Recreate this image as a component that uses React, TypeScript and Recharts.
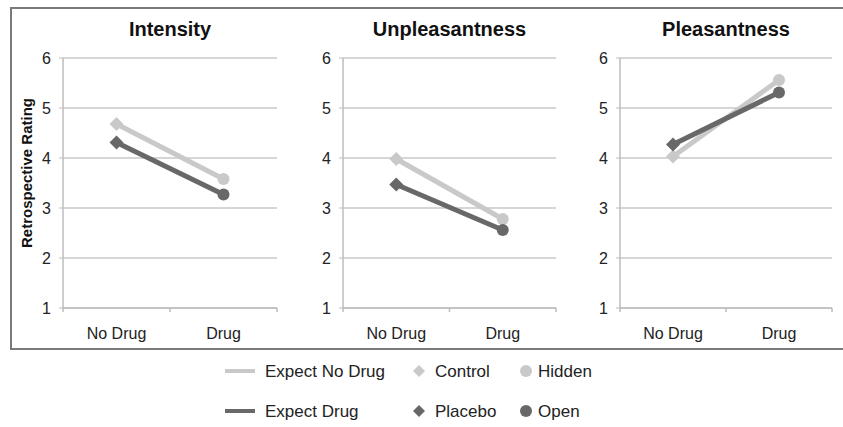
import React from 'react';
import { LineChart, Line, XAxis, YAxis, CartesianGrid } from 'recharts';

const categories = ['No Drug', 'Drug'];
const yTicks = [1, 2, 3, 4, 5, 6];
const xTicks = [0, 0.5, 1, 1.5, 2]; // whole numbers = between-category tick marks, halves = category labels

// Expect No Drug = Control (No Drug) / Hidden (Drug); Expect Drug = Placebo / Open
const intensityExpectNoDrug = [4.68, 3.58];
const intensityExpectDrug = [4.31, 3.27];
const unpleasantExpectNoDrug = [3.98, 2.78];
const unpleasantExpectDrug = [3.47, 2.56];
const pleasantExpectNoDrug = [4.03, 5.56];
const pleasantExpectDrug = [4.27, 5.31];

const LIGHT = '#c9c9c9';
const DARK = '#686868';
const FONT = '"Liberation Sans", Arial, Helvetica, sans-serif';

const build = (a: number[], b: number[]) =>
    categories.map((cat, i) => ({ cat, pos: i + 0.5, expectNoDrug: a[i], expectDrug: b[i] }));

const panels = [
    { title: 'Intensity', data: build(intensityExpectNoDrug, intensityExpectDrug), left: 11, width: 280, mr: 14 },
    { title: 'Unpleasantness', data: build(unpleasantExpectNoDrug, unpleasantExpectDrug), left: 291, width: 280, mr: 15 },
    { title: 'Pleasantness', data: build(pleasantExpectNoDrug, pleasantExpectDrug), left: 568, width: 275, mr: 11 },
];

const renderDot = (color: string) => (props: any) => {
    const { cx, cy, index } = props;
    if (cx == null || cy == null) return <g key={`d-${index}`} />;
    if (index === 0) {
        const s = 7;
        return (
            <path key={`d-${index}`} d={`M${cx},${cy - s} L${cx + s},${cy} L${cx},${cy + s} L${cx - s},${cy} Z`} fill={color} />
        );
    }
    return <circle key={`d-${index}`} cx={cx} cy={cy} r={6} fill={color} />;
};

const XTick = (props: any) => {
    const { x, y, payload } = props;
    const v = payload.value;
    if (Number.isInteger(v)) {
        return <line x1={x} x2={x} y1={y} y2={y + 4} stroke="#bdbdbd" strokeWidth={1.5} />;
    }
    return (
        <text x={x} y={y + 31} textAnchor="middle" fontSize={16} fill="#222" fontFamily={FONT}>
            {categories[Math.floor(v)]}
        </text>
    );
};

const yLabel = (props: any) => {
    const { viewBox } = props;
    const x = viewBox.x - 6;
    const y = viewBox.y + viewBox.height / 2 - 10;
    return (
        <text x={x} y={y} transform={`rotate(-90 ${x} ${y})`} textAnchor="middle" fontWeight="bold" fontSize={15} fill="#111" fontFamily={FONT}>
            Retrospective Rating
        </text>
    );
};

const Panel = ({ title, data, left, width, mr, showLabel }: any) => (
    <div style={{ position: 'absolute', left, top: 0 }}>
        <div style={{ position: 'absolute', left: 52, width: width - 52 - mr, top: 18, textAlign: 'center', fontWeight: 'bold', fontSize: 20, color: '#111' }}>
            {title}
        </div>
        <LineChart width={width} height={348} data={data} margin={{ top: 58, right: mr, bottom: 10, left: 27 }}>
            <CartesianGrid vertical={false} stroke="#c8c8c8" strokeWidth={1.5} />
            <XAxis dataKey="pos" type="number" domain={[0, 2]} ticks={xTicks} interval={0} height={30}
                axisLine={{ stroke: '#bdbdbd', strokeWidth: 1.5 }} tickLine={false} tickSize={0} tickMargin={0} tick={XTick} />
            <YAxis domain={[1, 6]} ticks={yTicks} width={25} tick={{ fill: '#222', fontSize: 16, fontFamily: FONT }}
                axisLine={{ stroke: '#bdbdbd', strokeWidth: 1.5 }} tickLine={{ stroke: '#bdbdbd' }} tickSize={4} tickMargin={8}
                label={showLabel ? yLabel : undefined} />
            <Line dataKey="expectNoDrug" stroke={LIGHT} strokeWidth={5} dot={renderDot(LIGHT)} activeDot={false} isAnimationActive={false} />
            <Line dataKey="expectDrug" stroke={DARK} strokeWidth={5} dot={renderDot(DARK)} activeDot={false} isAnimationActive={false} />
        </LineChart>
    </div>
);

const Legend = () => (
    <svg width={843} height={79} style={{ position: 'absolute', left: 0, top: 348 }}>
        <g fontFamily={FONT} fontSize={17} fill="#222">
            <line x1={225} x2={255} y1={23} y2={23} stroke={LIGHT} strokeWidth={4} />
            <text x={265} y={29}>Expect No Drug</text>
            <path d="M419,17 L425,23 L419,29 L413,23 Z" fill={LIGHT} />
            <text x={435} y={29}>Control</text>
            <circle cx={526} cy={23} r={6} fill={LIGHT} />
            <text x={538} y={29}>Hidden</text>

            <line x1={225} x2={255} y1={63} y2={63} stroke={DARK} strokeWidth={4} />
            <text x={265} y={69}>Expect Drug</text>
            <path d="M419,57 L425,63 L419,69 L413,63 Z" fill={DARK} />
            <text x={435} y={69}>Placebo</text>
            <circle cx={526} cy={63} r={6} fill={DARK} />
            <text x={538} y={69}>Open</text>
        </g>
    </svg>
);

export default function App() {
    return (
        <div style={{ position: 'absolute', left: 0, top: 0, width: 843, height: 427, background: '#fff', fontFamily: FONT, overflow: 'hidden' }}>
            <div style={{ position: 'absolute', left: 10, top: 7, width: 840, height: 339, borderTop: '2px solid #7a7a7a', borderLeft: '2px solid #7a7a7a', borderBottom: '2px solid #7a7a7a' }} />
            {panels.map((p, i) => (
                <Panel key={p.title} {...p} showLabel={i === 0} />
            ))}
            <Legend />
        </div>
    );
}
